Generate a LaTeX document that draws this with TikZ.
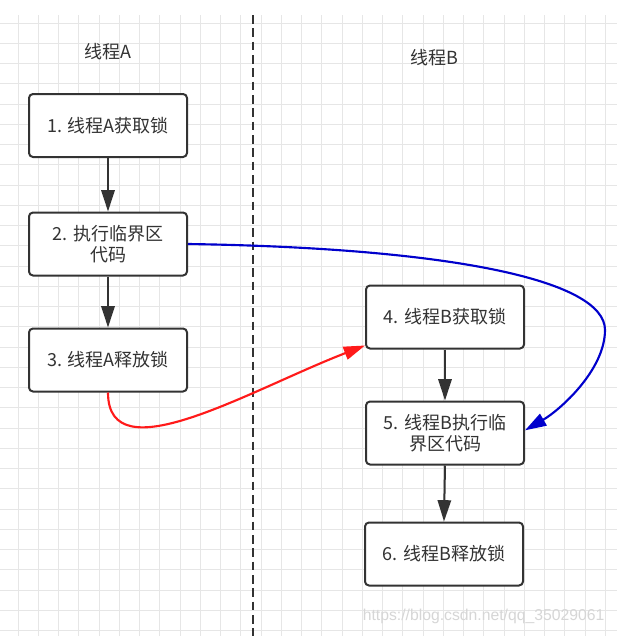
\documentclass[tikz,border=0pt]{standalone}
\usepackage{fontspec}
\setmainfont{Noto Sans CJK SC}
\newfontfamily\wmfont{Liberation Sans}
\usetikzlibrary{arrows.meta}
\definecolor{gridc}{HTML}{E6E6E6}
\definecolor{ink}{HTML}{333333}
\definecolor{redc}{HTML}{FF1A1A}
\definecolor{bluec}{HTML}{0000CC}
\definecolor{wmc}{HTML}{D6D6D6}
\begin{document}
\begin{tikzpicture}[x=0.75pt,y=-0.75pt,
  gridline/.style={draw=gridc,line width=0.75pt},
  stepbox/.style={draw=ink,fill=white,line width=1.5pt,rounded corners=3pt,
    minimum width=118.5pt,minimum height=47.25pt,align=center,
    font=\fontsize{13.5}{15.5}\selectfont,text=ink,inner sep=2pt},
  lanelabel/.style={font=\fontsize{13.5}{15.5}\selectfont,text=ink},
  flow/.style={draw=ink,line width=1.5pt,-{Triangle[length=16pt,width=10pt]}},
  redflow/.style={draw=redc,line width=1.6pt,-{Triangle[length=16pt,width=10pt]}},
  blueflow/.style={draw=bluec,line width=1.6pt,-{Triangle[length=16pt,width=10pt]}}]
\useasboundingbox (0,0) rectangle (617,636);
\fill[white] (0,0) rectangle (617,636);
% grid
\foreach \i in {0,...,29} \draw[gridline] ({18+20.25*\i},15) -- ({18+20.25*\i},636);
\foreach \i in {0,...,30} \draw[gridline] (0,{23+20.25*\i}) -- (617,{23+20.25*\i});
% divider
\coordinate (dtop) at (253,15);
\coordinate (dbot) at (253,636);
\draw[ink,line width=2pt,dash pattern=on 6.5pt off 3.5pt] (dtop) -- (dbot);
% lane labels
\node[lanelabel] (la) at (108,52) {线程A};
\node[lanelabel] (lb) at (434,58) {线程B};
% boxes
\node[stepbox] (b1) at (108,125.5) {1. 线程A获取锁};
\node[stepbox] (b2) at (108,244) {2. 执行临界区\\代码};
\node[stepbox] (b3) at (108,360) {3. 线程A释放锁};
\node[stepbox] (b4) at (445,317) {4. 线程B获取锁};
\node[stepbox] (b5) at (445,433) {5. 线程B执行临\\界区代码};
\node[stepbox] (b6) at (444,554) {6. 线程B释放锁};
% straight flows
\draw[flow] (b1.south) -- (b2.north);
\draw[flow] (b2.south) -- (b3.north);
\draw[flow] (b4.south) -- (b5.north);
\draw[flow] (b5.south) -- (b6.north);
% curved flows
\draw[redflow] (b3.south) .. controls (108,475) and (250,390) .. ([yshift=3pt]b4.south west);
\draw[blueflow] (b2.east) .. controls (450,248) and (605,280) .. (605,330)
  .. controls (605,370) and (560,410) .. ([yshift=2pt]b5.east);
% watermark
\node[font=\wmfont\fontsize{11.8}{13}\selectfont,text=wmc,anchor=east] (wm) at (609,616) {https://blog.csdn.net/qq\_35029061};
\end{tikzpicture}
\end{document}
